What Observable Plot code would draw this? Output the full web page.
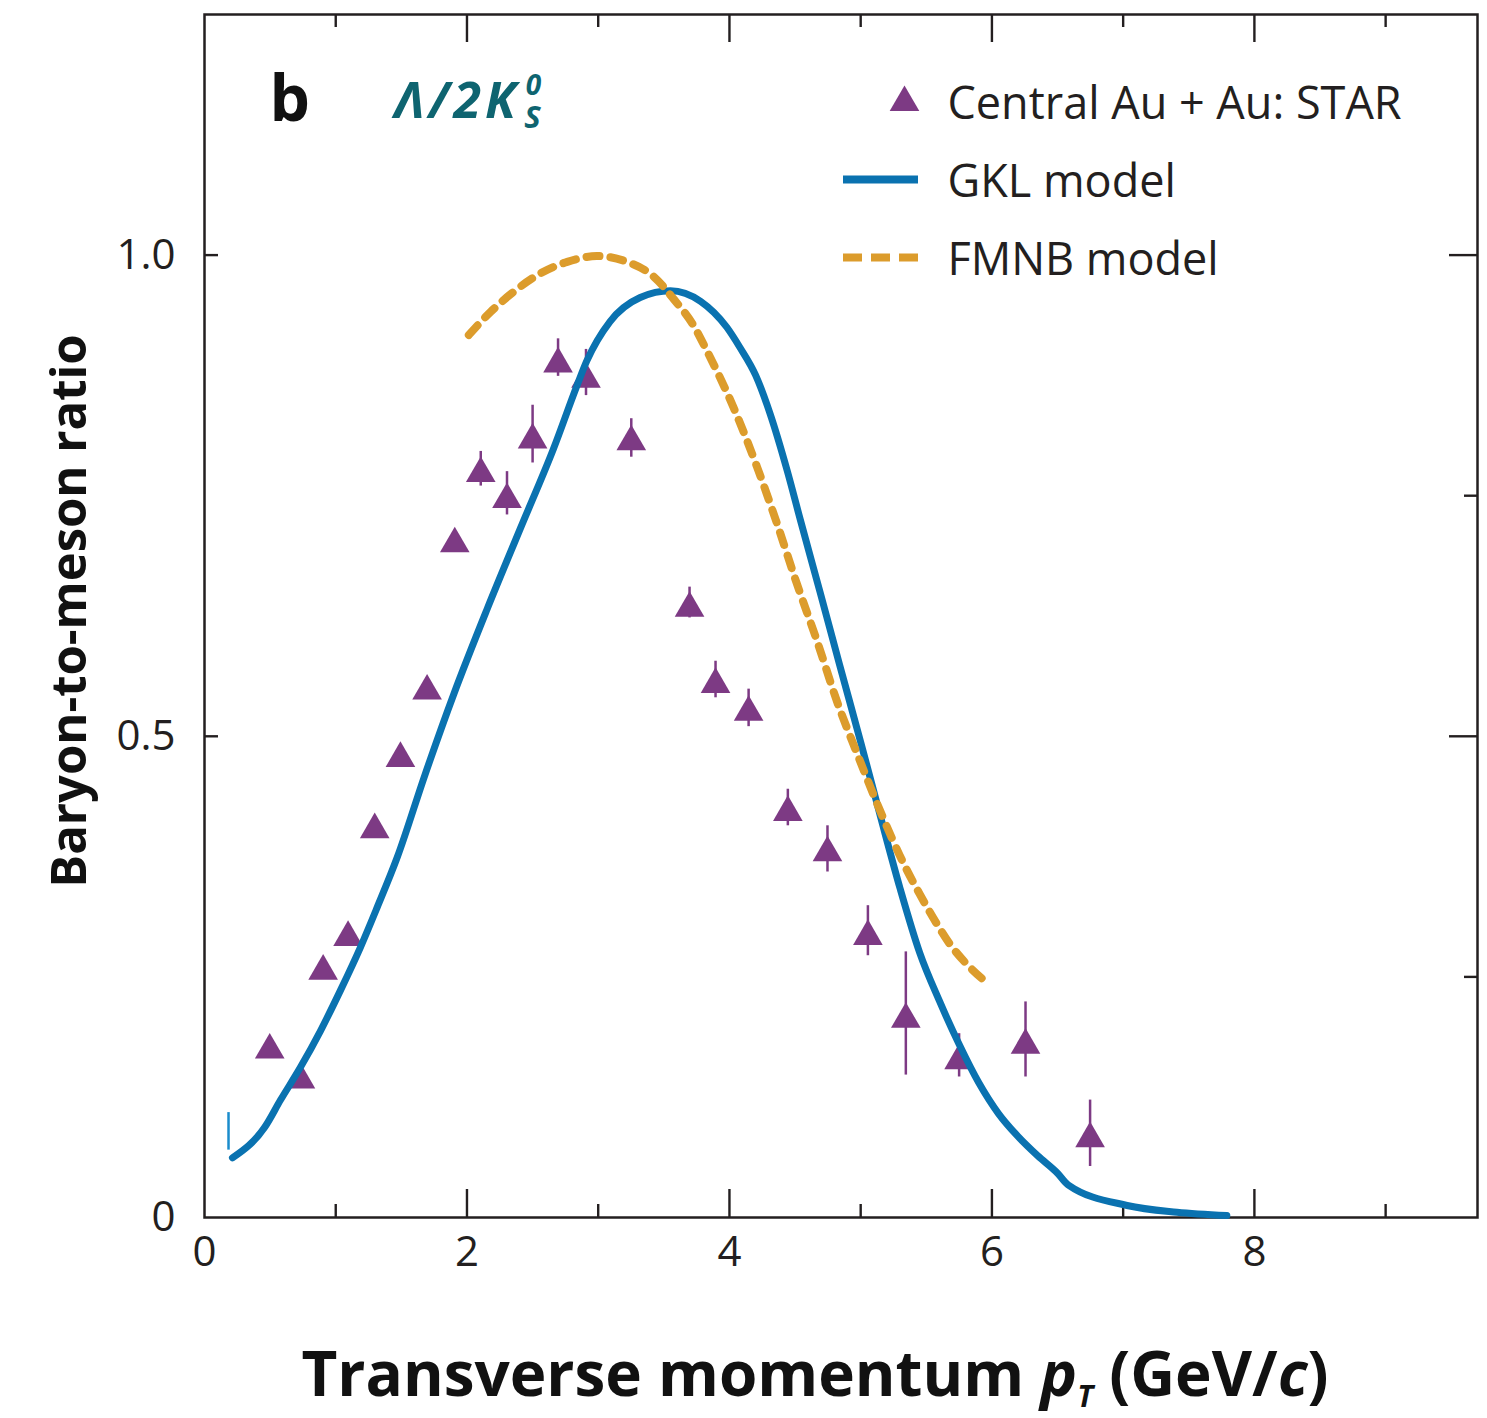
<!DOCTYPE html>
<html>
<head>
<meta charset="utf-8">
<script src="https://cdn.jsdelivr.net/npm/d3@7"></script>
<script src="https://cdn.jsdelivr.net/npm/@observablehq/plot@0.6"></script>
<style>
  html, body { margin: 0; padding: 0; background: #fff; }
  #chart svg { display: block; }
</style>
</head>
<body>
<div id="chart"></div>
<script>
// ---------------- data ----------------
// STAR central Au+Au Λ/2K0s ratio (points) and error bar extents
const starX = [0.497, 0.731, 0.904, 1.094, 1.297, 1.493, 1.696, 1.907, 2.105, 2.305, 2.50, 2.694, 2.907, 3.252, 3.696, 3.894, 4.146, 4.445, 4.747, 5.055, 5.344, 5.75, 6.256, 6.748];
const starY = [0.174, 0.143, 0.256, 0.291, 0.403, 0.477, 0.547, 0.700, 0.773, 0.746, 0.808, 0.887, 0.871, 0.806, 0.633, 0.554, 0.525, 0.421, 0.379, 0.292, 0.206, 0.163, 0.179, 0.082];
const starLo = [null, null, null, null, null, null, null, null, 0.760, 0.730, 0.784, 0.874, 0.854, 0.790, 0.623, 0.540, 0.510, 0.407, 0.359, 0.272, 0.148, 0.146, 0.146, 0.053];
const starHi = [null, null, null, null, null, null, null, null, 0.796, 0.775, 0.844, 0.913, 0.902, 0.830, 0.655, 0.578, 0.549, 0.445, 0.407, 0.324, 0.276, 0.191, 0.224, 0.122];

// GKL model (solid blue)
const gklX = [0.213, 0.46, 0.579, 0.731, 0.884, 1.036, 1.189, 1.315, 1.468, 1.68, 1.90, 2.153, 2.407, 2.66, 2.84, 2.913, 3.09, 3.32, 3.55, 3.78, 3.98, 4.08, 4.20, 4.31, 4.44, 4.54, 4.69, 4.84, 5.00, 5.15, 5.30, 5.45, 5.60, 5.75, 5.90, 6.05, 6.20, 6.35, 6.50, 6.58, 7.03, 7.41, 7.79];
const gklY = [0.062, 0.094, 0.122, 0.156, 0.194, 0.236, 0.281, 0.322, 0.374, 0.460, 0.544, 0.632, 0.716, 0.799, 0.865, 0.890, 0.931, 0.956, 0.963, 0.952, 0.925, 0.904, 0.875, 0.835, 0.776, 0.725, 0.650, 0.574, 0.494, 0.417, 0.342, 0.275, 0.225, 0.180, 0.140, 0.108, 0.084, 0.064, 0.046, 0.034, 0.0125, 0.0055, 0.002];

// FMNB model (dashed orange)
const fmnbX = [2.014, 2.18, 2.357, 2.56, 2.764, 2.99, 3.22, 3.42, 3.577, 3.73, 3.83, 4.03, 4.21, 4.36, 4.51, 4.67, 4.82, 4.97, 5.15, 5.33, 5.45, 5.55, 5.68, 5.81, 5.97];
const fmnbY = [0.917, 0.941, 0.962, 0.981, 0.993, 0.999, 0.993, 0.978, 0.954, 0.926, 0.900, 0.842, 0.780, 0.722, 0.660, 0.598, 0.536, 0.483, 0.422, 0.367, 0.336, 0.312, 0.284, 0.263, 0.243];

// small vertical marker at the start of the GKL curve
const gklMarkX = [0.183];
const gklMarkLo = [0.070];
const gklMarkHi = [0.109];

// ticks and labels
const xTickLabels = [0, 2, 4, 6, 8];
const xMajorTicks = [2, 4, 6, 8];
const xMinorTicks = [1, 3, 5, 7, 9];
const yTickLabels = [0, 0.5, 1.0];
const yMajorTicks = [0.5, 1.0];
const yMinorTicks = [0.25, 0.75];
const xDomain = [0, 9.7];
const yDomain = [0, 1.25];

const legendLabels = ["Central Au + Au: STAR", "GKL model", "FMNB model"];
const panelLabel = "b";
const ratioLabel = "Λ/2K";
const ratioSup = "0";
const ratioSub = "S";
const xTitle = "Transverse momentum pT (GeV/c)";
const yTitle = "Baryon-to-meson ratio";

// ---------------- style ----------------
const W = 1487, H = 1418;
const mL = 204, mR = 10, mT = 14, mB = 201;
const plotW = W - mL - mR, plotH = H - mT - mB;
const PURPLE = "#7d3a84", BLUE = "#0a72b0", ORANGE = "#dc9c2c", TEAL = "#0e6470", INK = "#231f20";
const FONT = "'Open Sans', 'Noto Sans', sans-serif";

const star = starX.map((x, i) => ({x, y: starY[i], lo: starLo[i], hi: starHi[i]}));
const starErr = star.filter(d => d.lo != null);
const gkl = gklX.map((x, i) => ({x, y: gklY[i]}));
const fmnb = fmnbX.map((x, i) => ({x, y: fmnbY[i]}));
const gklMark = gklMarkX.map((x, i) => ({x, lo: gklMarkLo[i], hi: gklMarkHi[i]}));

const tickStyle = {stroke: INK, strokeWidth: 2.4};

const plot = Plot.plot({
  width: W, height: H,
  marginLeft: mL, marginRight: mR, marginTop: mT, marginBottom: mB,
  style: {fontFamily: FONT, fontSize: "42px", color: INK, background: "#fff"},
  x: {domain: xDomain, label: null},
  y: {domain: yDomain, label: null},
  marks: [
    // ticks (inward)
    Plot.ruleX(xMajorTicks, {...tickStyle, insetTop: plotH - 28}),
    Plot.ruleX(xMinorTicks, {...tickStyle, insetTop: plotH - 13}),
    Plot.ruleX(xMajorTicks, {...tickStyle, insetBottom: plotH - 28}),
    Plot.ruleX(xMinorTicks, {...tickStyle, insetBottom: plotH - 13}),
    Plot.ruleY(yMajorTicks, {...tickStyle, insetRight: plotW - 14}),
    Plot.ruleY(yMajorTicks, {...tickStyle, insetLeft: plotW - 28}),
    Plot.ruleY(yMinorTicks, {...tickStyle, insetLeft: plotW - 13}),
    Plot.frame({stroke: INK, strokeWidth: 2.5}),
    Plot.axisX({ticks: xTickLabels, tickSize: 0, tickPadding: 19, fontSize: 42, label: null, fill: INK}),
    Plot.axisY({ticks: yTickLabels, tickSize: 0, tickPadding: 29, fontSize: 42, label: null, fill: INK,
      tickFormat: d => d === 0 ? "0" : d.toFixed(1)}),

    // data
    Plot.ruleX(gklMark, {x: "x", y1: "lo", y2: "hi", stroke: "#1a8ccc", strokeWidth: 2.5}),
    Plot.ruleX(starErr, {x: "x", y1: "lo", y2: "hi", stroke: PURPLE, strokeWidth: 2.5}),
    Plot.dot(star, {x: "x", y: "y", symbol: "triangle", r: 11, fill: PURPLE, stroke: "none"}),
    Plot.line(gkl, {x: "x", y: "y", stroke: BLUE, strokeWidth: 7, curve: "monotone-x", strokeLinejoin: "round"}),
    Plot.line(fmnb, {x: "x", y: "y", stroke: ORANGE, strokeWidth: 8, curve: "monotone-x", strokeDasharray: "13,11"}),

    // panel labels
    Plot.text([panelLabel], {frameAnchor: "top-left", dx: 65, dy: 106, text: d => d, lineAnchor: "bottom", textAnchor: "start",
      fontSize: 64, fontWeight: "bold", fill: "#111"}),
    Plot.text([ratioLabel], {frameAnchor: "top-left", dx: 190, dy: 103, text: d => d, lineAnchor: "bottom", textAnchor: "start",
      fontSize: 50, fontWeight: "bold", fontStyle: "italic", fill: TEAL}),

    // legend
    Plot.dot([legendLabels[0]], {frameAnchor: "top-left", dx: 700, dy: 88, symbol: "triangle", r: 11, fill: PURPLE}),
    Plot.ruleY([yDomain[1]], {dy: 165, insetLeft: 639, insetRight: 559, stroke: BLUE, strokeWidth: 8}),
    Plot.ruleY([yDomain[1]], {dy: 243, insetLeft: 639, insetRight: 559, stroke: ORANGE, strokeWidth: 8, strokeDasharray: "19,9"}),
    Plot.text([legendLabels[0]], {frameAnchor: "top-left", dx: 743, dy: 104, text: d => d, lineAnchor: "bottom", textAnchor: "start", fontSize: 45, fill: INK}),
    Plot.text([legendLabels[1]], {frameAnchor: "top-left", dx: 743, dy: 182, text: d => d, lineAnchor: "bottom", textAnchor: "start", fontSize: 45, fill: INK}),
    Plot.text([legendLabels[2]], {frameAnchor: "top-left", dx: 743, dy: 260, text: d => d, lineAnchor: "bottom", textAnchor: "start", fontSize: 45, fill: INK}),

    // axis titles
    Plot.text([xTitle], {frameAnchor: "bottom", dx: -26, dy: 178, text: d => d, lineAnchor: "bottom", textAnchor: "middle",
      fontSize: 62, fontWeight: "bold", fill: "#111"}),
    Plot.text([yTitle], {frameAnchor: "left", dx: -134, dy: -5, text: d => d, rotate: -90, lineAnchor: "middle", textAnchor: "middle",
      fontSize: 49, fontWeight: "bold", fill: "#111"})
  ]
});

document.getElementById("chart").appendChild(plot);

// rich text: subscripts, superscripts, italics
const svg = d3.select(plot);
svg.selectAll("text").each(function () {
  const t = d3.select(this);
  if (this.textContent === xTitle) {
    t.text(null);
    t.append("tspan").text("Transverse momentum ");
    t.append("tspan").attr("font-style", "italic").text("p");
    t.append("tspan").attr("font-style", "italic").attr("font-size", 30).attr("dy", 11).text("T");
    t.append("tspan").attr("dy", -11).text(" (GeV/");
    t.append("tspan").attr("font-style", "italic").text("c");
    t.append("tspan").text(")");
  } else if (this.textContent === ratioLabel) {
    t.text(null);
    t.append("tspan").attr("letter-spacing", 4).text(ratioLabel);
    t.append("tspan").attr("font-size", 28).attr("dy", -23).attr("dx", 6).text(ratioSup);
    t.append("tspan").attr("font-size", 31).attr("dy", 33).attr("dx", -17).text(ratioSub);
  }
});
</script>
</body>
</html>
